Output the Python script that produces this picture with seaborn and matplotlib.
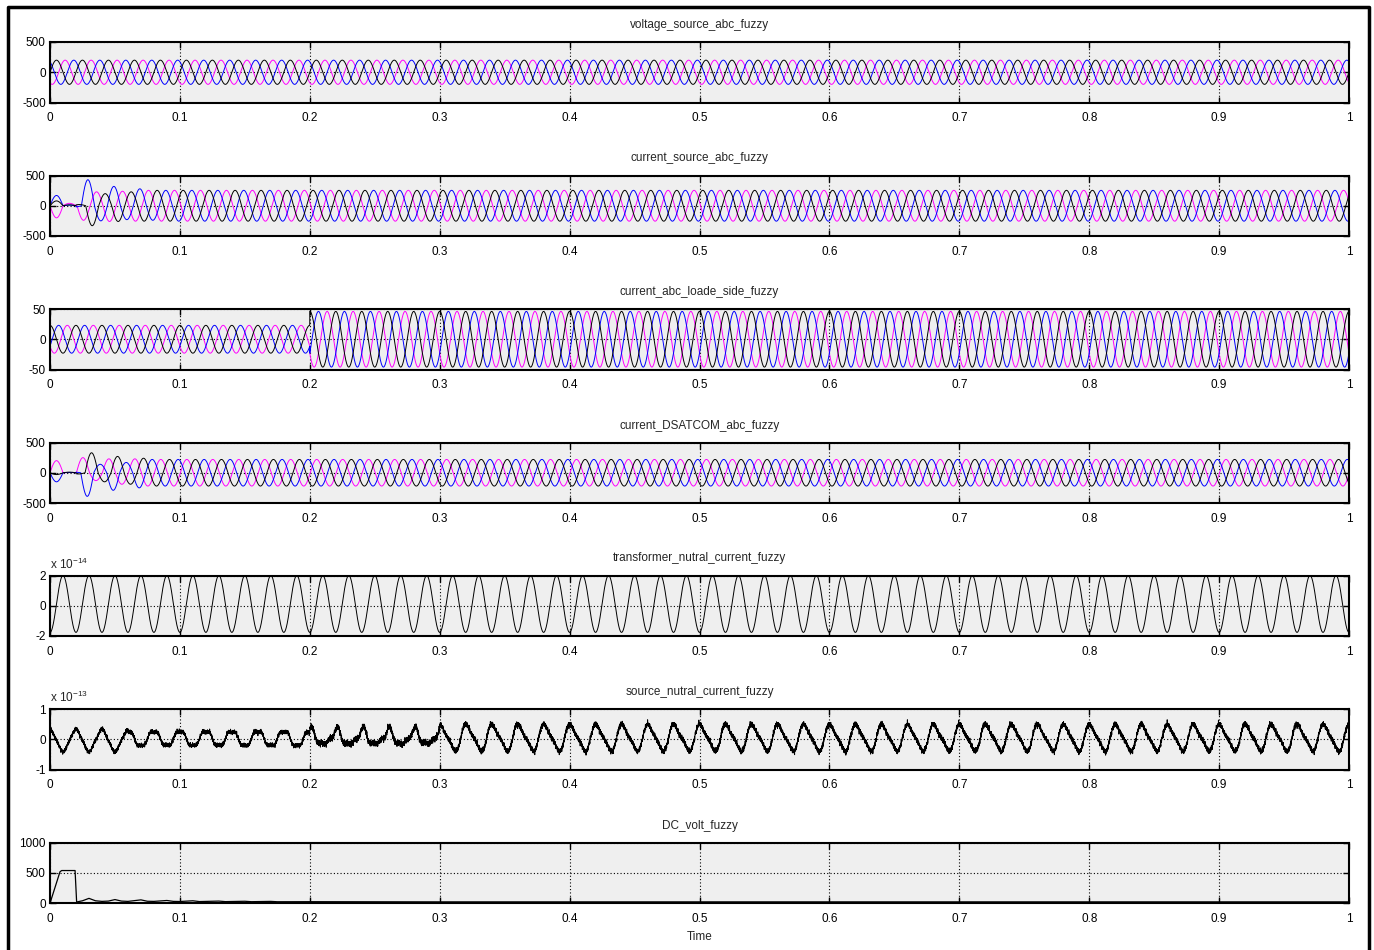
import numpy as np
import pandas as pd
import matplotlib
matplotlib.use('Agg')
import matplotlib.pyplot as plt
import seaborn as sns

# ---------- data ----------
FREQ = 50.0                      # network frequency, Hz
T_END = 1.0
DT = 5e-5

x_ticks = [0, 0.1, 0.2, 0.3, 0.4, 0.5, 0.6, 0.7, 0.8, 0.9, 1.0]
x_tick_labels = ['0', '0.1', '0.2', '0.3', '0.4', '0.5', '0.6', '0.7', '0.8', '0.9', '1']

panel_titles = ['voltage_source_abc_fuzzy', 'current_source_abc_fuzzy',
                'current_abc_loade_side_fuzzy', 'current_DSATCOM_abc_fuzzy',
                'transformer_nutral_current_fuzzy', 'source_nutral_current_fuzzy',
                'DC_volt_fuzzy']

phase_names = ['a', 'b', 'c']
phase_colors = ['black', '#0000FF', '#FF00FF']

# source voltage (black, blue, magenta)
v_src_amp = [200, 200, 200]
v_src_phase_deg = [0, 120, -120]

# source current: steady amplitude, phase, start-up bumps, half cycle peaks after 0.02 s
i_src_amp = [255, 255, 255]
i_src_phase_deg = [45, -75, 165]
i_src_start = [[80, 15], [170, 10], [-200, 40]]
i_src_half_peaks = [[20, 330, 200, 260, 230],
                    [20, 430, 250, 320, 230, 280, 240],
                    [10, 240, 230, 260, 240]]

# load current, switched at 0.2 s
i_load_amp_before = 23
i_load_amp_after = 46
i_load_switch = 0.2
i_load_phase_deg = [90, -30, -150]

# DSTATCOM current
i_dst_amp = [220, 220, 220]
i_dst_phase_deg = [-126, 114, -6]
i_dst_start = [[-30, 10], [-150, 5], [200, 5]]
i_dst_half_peaks = [[20, 330, 150, 270, 190, 240],
                    [10, 390, 140, 290, 170, 250],
                    [5, 250, 130, 230, 190, 230]]

# transformer neutral current (x 1e-14)
tn_amp = 1.88e-14
tn_offset = 0.12e-14
tn_phase_deg = -90

# source neutral current (x 1e-13), piecewise harmonic content
sn_seg_start = [0.0, 0.06, 0.2, 0.3]
sn_seg_end = [0.06, 0.2, 0.3, 1.0001]
sn_offset = [-0.04, 0.02, 0.04, 0.05]
sn_h1_amp = [0.35, 0.26, 0.24, 0.41]
sn_h1_phase = [90, 90, 80, 68.5]
sn_h2_amp = [0.0, 0.0, 0.09, 0.10]
sn_h2_phase = [0, 0, 40, 137]
sn_h3_amp = [0.03, 0.05, 0.06, 0.0]
sn_h3_phase = [90, -90, 0, 0]
sn_noise_level = [1.4, 1.4, 2.0, 1.8]
sn_noise_orders = [13.7, 21.3, 34.9, 47.1, 58.3, 71.9, 83.7, 97.3, 123.1, 151.7, 177.9, 196.3]
sn_noise_amps = [0.012, 0.011, 0.011, 0.010, 0.010, 0.010, 0.009, 0.009, 0.009, 0.008, 0.008, 0.008]
sn_noise_phase = [10, 75, 200, 330, 40, 160, 280, 120, 250, 15, 95, 300]

# DC link voltage, break points
dc_time = [0, 0.0077, 0.009, 0.0193, 0.0205, 0.025, 0.03, 0.035, 0.04, 0.045, 0.05,
           0.055, 0.06, 0.07, 0.075, 0.08, 0.09, 0.095, 0.1, 0.11, 0.115, 0.13,
           0.135, 0.15, 0.155, 0.17, 0.175, 0.2, 0.3, 1.0]
dc_volt = [0, 520, 540, 540, 20, 40, 80, 40, 30, 35, 60, 35, 30, 55, 32, 30, 45, 30,
           28, 40, 27, 35, 26, 32, 25, 30, 24, 25, 22, 22]

W = 2 * np.pi * FREQ
t = np.arange(0, T_END + DT / 2, DT)


def three_phase(amps, phases_deg):
    """simple balanced three phase set"""
    return [amps[k] * np.sin(W * t + np.deg2rad(phases_deg[k])) for k in range(3)]


def three_phase_transient(amps, phases_deg, start, half_peaks, t_on=0.02):
    """three phase set with start-up bumps and half cycle peak envelope"""
    out = []
    for k in range(3):
        ph = np.deg2rad(phases_deg[k])
        theta = W * t + ph
        half_idx = np.floor(theta / np.pi).astype(int)
        k0 = int(np.floor((W * t_on + ph) / np.pi + 1e-9))
        idx = half_idx - k0
        peaks = np.array(half_peaks[k], dtype=float)
        amp = np.where(idx < len(peaks), peaks[np.clip(idx, 0, len(peaks) - 1)], amps[k])
        y = amp * np.sin(theta)
        first = t < 0.01
        second = (t >= 0.01) & (t < t_on)
        y[first] = start[k][0] * np.sin(np.pi * t[first] / 0.01)
        y[second] = start[k][1] * np.sin(np.pi * (t[second] - 0.01) / 0.01)
        out.append(y)
    return out


def load_current():
    amp = np.where(t < i_load_switch, i_load_amp_before, i_load_amp_after)
    return [amp * np.sin(W * t + np.deg2rad(p)) for p in i_load_phase_deg]


def source_neutral():
    """source neutral current in units of 1e-13"""
    y = np.zeros_like(t)
    noise = np.zeros_like(t)
    for n, a, p in zip(sn_noise_orders, sn_noise_amps, sn_noise_phase):
        noise += a * np.sin(n * W * t + np.deg2rad(p))
    for i in range(len(sn_seg_start)):
        m = (t >= sn_seg_start[i]) & (t < sn_seg_end[i])
        th = W * t[m]
        y[m] = (sn_offset[i]
                + sn_h1_amp[i] * np.sin(th + np.deg2rad(sn_h1_phase[i]))
                + sn_h2_amp[i] * np.sin(2 * th + np.deg2rad(sn_h2_phase[i]))
                + sn_h3_amp[i] * np.sin(3 * th + np.deg2rad(sn_h3_phase[i]))
                + sn_noise_level[i] * noise[m])
    return y


def to_frame(signals):
    frames = []
    for name, y in zip(phase_names, signals):
        frames.append(pd.DataFrame({'t': t, 'value': y, 'phase': name}))
    return pd.concat(frames, ignore_index=True)


# ---------- figure ----------
sns.set_theme(style='ticks')
plt.rcParams['font.family'] = ['Liberation Sans', 'DejaVu Sans']
plt.rcParams['axes.unicode_minus'] = False
plt.rcParams['mathtext.fontset'] = 'custom'
plt.rcParams['mathtext.rm'] = 'Liberation Sans'

FIG_W, FIG_H = 1374, 950
fig = plt.figure(figsize=(FIG_W / 100, FIG_H / 100), dpi=100)
fig.patch.set_facecolor('white')

AX_LEFT, AX_RIGHT = 50, 1349
AX_H = 60.5
ax_tops = [42, 175.5, 309, 442.5, 575.5, 709, 842.7]

# outer frame like the scope window
fig.add_artist(plt.Line2D([8 / FIG_W, 8 / FIG_W, 1369 / FIG_W, 1369 / FIG_W],
                          [-0.1, 1 - 7 / FIG_H, 1 - 7 / FIG_H, -0.1],
                          transform=fig.transFigure, color='black', lw=2.5))

axes = []
for top in ax_tops:
    ax = fig.add_axes([AX_LEFT / FIG_W, 1 - (top + AX_H) / FIG_H,
                       (AX_RIGHT - AX_LEFT) / FIG_W, AX_H / FIG_H])
    axes.append(ax)

palette = dict(zip(phase_names, phase_colors))

three_sets = [three_phase(v_src_amp, v_src_phase_deg),
              three_phase_transient(i_src_amp, i_src_phase_deg, i_src_start, i_src_half_peaks),
              load_current(),
              three_phase_transient(i_dst_amp, i_dst_phase_deg, i_dst_start, i_dst_half_peaks)]
ylims = [(-500, 500), (-500, 500), (-50, 50), (-500, 500)]
yticks = [[-500, 0, 500], [-500, 0, 500], [-50, 0, 50], [-500, 0, 500]]

for i in range(4):
    df = to_frame(three_sets[i])
    sns.lineplot(data=df, x='t', y='value', hue='phase', hue_order=['c', 'b', 'a'],
                 palette=palette, estimator=None, sort=False, legend=False,
                 linewidth=0.7, ax=axes[i])
    axes[i].set_ylim(*ylims[i])
    axes[i].set_yticks(yticks[i])
    axes[i].set_yticklabels([str(v) for v in yticks[i]])

# transformer neutral current
tn = (tn_offset + tn_amp * np.sin(W * t + np.deg2rad(tn_phase_deg))) / 1e-14
sns.lineplot(x=t, y=tn, color='black', linewidth=0.7, estimator=None, sort=False, ax=axes[4])
axes[4].set_ylim(-2, 2)
axes[4].set_yticks([-2, 0, 2])
axes[4].set_yticklabels(['-2', '0', '2'])

# source neutral current
sn = source_neutral()
sns.lineplot(x=t, y=sn, color='black', linewidth=0.7, estimator=None, sort=False, ax=axes[5])
axes[5].set_ylim(-1, 1)
axes[5].set_yticks([-1, 0, 1])
axes[5].set_yticklabels(['-1', '0', '1'])

# DC voltage
sns.lineplot(x=dc_time, y=dc_volt, color='black', linewidth=0.9, estimator=None,
             sort=False, ax=axes[6])
axes[6].set_ylim(0, 1000)
axes[6].set_yticks([0, 500, 1000])
axes[6].set_yticklabels(['0', '500', '1000'])

for ax, top, title in zip(axes, ax_tops, panel_titles):
    ax.set_facecolor('#EFEFEF')
    ax.set_xlim(0, 1)
    ax.set_xticks(x_ticks)
    ax.set_xticklabels(x_tick_labels)
    ax.set_xlabel('')
    ax.set_ylabel('')
    ax.grid(True, color='black', linestyle=(0, (1, 2)), linewidth=0.8)
    ax.tick_params(direction='in', top=True, right=True, length=4, width=1,
                   labelsize=8.5, colors='black')
    ax.tick_params(axis='x', pad=7)
    ax.tick_params(axis='y', pad=3)
    for sp in ax.spines.values():
        sp.set_visible(True)
        sp.set_linewidth(1.5)
        sp.set_color('black')
    fig.text((AX_LEFT + AX_RIGHT) / 2 / FIG_W, 1 - (top - 17) / FIG_H, title,
             ha='center', va='center', fontsize=8.5)

# exponent labels
axes[4].text(0, 1.06, r'x 10$^{\mathregular{-14}}$', transform=axes[4].transAxes,
             ha='left', va='bottom', fontsize=8.5)
axes[5].text(0, 1.06, r'x 10$^{\mathregular{-13}}$', transform=axes[5].transAxes,
             ha='left', va='bottom', fontsize=8.5)

fig.text((AX_LEFT + AX_RIGHT) / 2 / FIG_W, 1 - 937 / FIG_H, 'Time',
         ha='center', va='center', fontsize=8.5)

fig.savefig('out.png', dpi=100)
